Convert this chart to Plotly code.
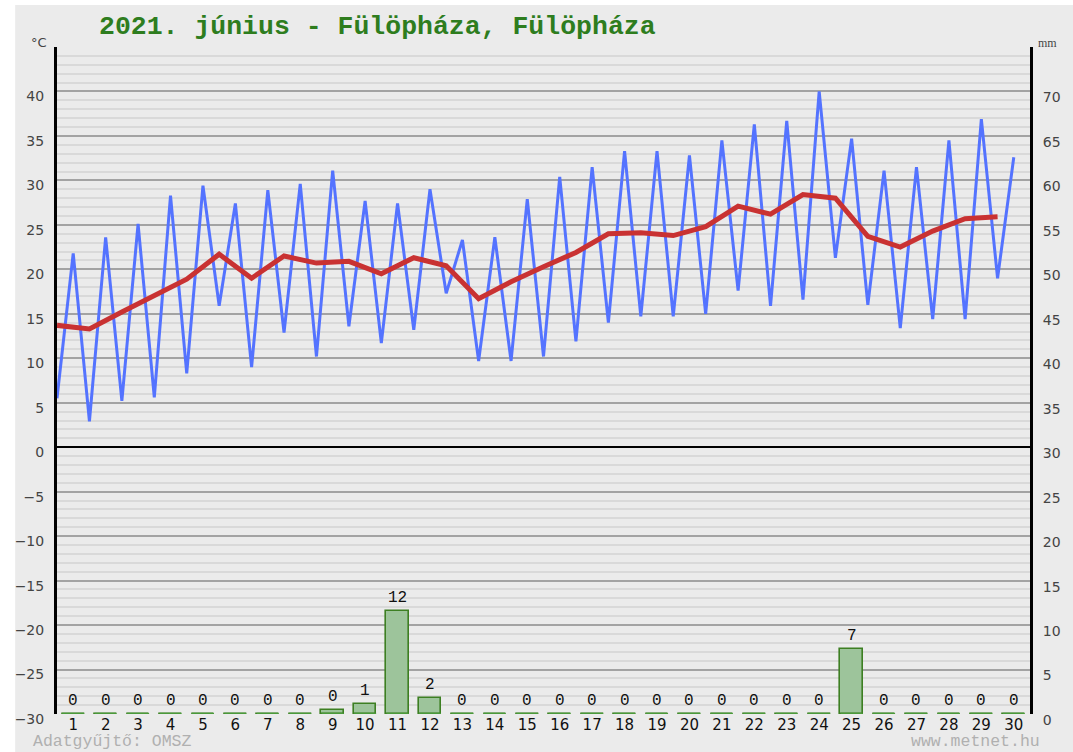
import plotly.graph_objects as go

days = list(range(1, 31))
tmin = [5.5, 2.9, 5.2, 5.6, 8.3, 15.9, 9.0, 12.9, 10.2, 13.6, 11.7, 13.2, 17.3, 9.7, 9.7,
        10.2, 11.9, 14.0, 14.7, 14.7, 15.0, 17.6, 15.9, 16.6, 21.3, 16.0, 13.4, 14.4, 14.4, 19.0]
tmax = [21.8, 23.6, 25.1, 28.3, 29.4, 27.4, 28.9, 29.6, 31.1, 27.7, 27.4, 29.0, 23.3, 23.6, 27.9,
        30.4, 31.5, 33.3, 33.3, 32.8, 34.5, 36.3, 36.7, 40.0, 34.7, 31.1, 31.5, 34.5, 36.9, 32.6]
tmean = [13.7, 13.3, 15.2, 17.0, 18.9, 21.7, 19.0, 21.5, 20.7, 20.9, 19.5, 21.3, 20.4, 16.7, 18.6,
         20.3, 21.9, 24.0, 24.1, 23.8, 24.8, 27.1, 26.2, 28.4, 28.0, 23.7, 22.5, 24.3, 25.7, 25.9]
precip = [0, 0, 0, 0, 0, 0, 0, 0, 0.4, 1.1, 11.6, 1.8, 0, 0, 0,
          0, 0, 0, 0, 0, 0, 0, 0, 0, 7.3, 0, 0, 0, 0, 0]
temp_ticks = list(range(-30, 45, 5))
mm_ticks = list(range(0, 75, 5))
title_text = "2021. június - Fülöpháza, Fülöpháza"

W, H = 1073, 752
L, R, T, B = 57, 1034, 47, 714
PW, PH = R - L, B - T

def px(x):
    return (x - L) / PW

def py(y):
    return (B - y) / PH

# blue min/max zigzag: min at day start, max at day middle
bx, by = [], []
for d, lo, hi in zip(days, tmin, tmax):
    bx += [d - 0.5, d]
    by += [lo, hi]

mx = [d - 0.5 for d in days]

fig = go.Figure()

# zero-precip baseline segments
sx, sy = [], []
for d in days:
    sx += [d - 0.34, d + 0.34, None]
    sy += [0, 0, None]
fig.add_trace(go.Scatter(x=sx, y=sy, yaxis="y2", mode="lines",
                         line=dict(color="#4a9a3a", width=2.5), hoverinfo="skip"))

fig.add_trace(go.Bar(x=days, y=precip, yaxis="y2", width=0.7,
                     marker=dict(color="#9dc49b", line=dict(color="#3d7f22", width=1.6))))

fig.add_trace(go.Scatter(x=bx, y=by, mode="lines",
                         line=dict(color="#5473ff", width=3)))
fig.add_trace(go.Scatter(x=mx, y=tmean, mode="lines",
                         line=dict(color="#c93232", width=5)))

annotations = [
    dict(text=title_text, xref="paper", yref="paper", x=px(97), y=py(27),
         xanchor="left", yanchor="middle", showarrow=False,
         font=dict(family="Liberation Mono", size=26.5, color="#2e7d1e", weight="bold")),
    dict(text="°C", xref="paper", yref="paper", x=px(39), y=py(42),
         xanchor="center", yanchor="middle", showarrow=False,
         font=dict(family="DejaVu Sans", size=13, color="#444444")),
    dict(text="mm", xref="paper", yref="paper", x=px(1052), y=py(43),
         xanchor="center", yanchor="middle", showarrow=False,
         font=dict(family="Liberation Serif", size=12, color="#444444")),
    dict(text="Adatgyűjtő: OMSZ", xref="paper", yref="paper", x=px(31), y=py(741),
         xanchor="left", yanchor="middle", showarrow=False,
         font=dict(family="Liberation Mono", size=16.5, color="#b0b0b0")),
    dict(text="www.metnet.hu", xref="paper", yref="paper", x=px(1046), y=py(741),
         xanchor="right", yanchor="middle", showarrow=False,
         font=dict(family="Liberation Mono", size=16.5, color="#b0b0b0")),
]
for d, v in zip(days, precip):
    annotations.append(dict(text=str(int(round(v + 1e-9))), xref="x", yref="y2", x=d, y=v,
                            xanchor="center", yanchor="bottom", yshift=2, showarrow=False,
                            font=dict(family="Liberation Mono", size=16, color="#111111")))

fig.update_layout(
    width=W, height=H,
    margin=dict(l=L, r=W - R, t=T, b=H - B, pad=0),
    paper_bgcolor="white",
    plot_bgcolor="#ebebeb",
    showlegend=False,
    bargap=0,
    xaxis=dict(range=[0.5, 30.5], tickvals=days, ticktext=[str(d) for d in days],
               showgrid=False, zeroline=False, showline=False, ticks="",
               tickfont=dict(family="DejaVu Sans", size=15, color="#111111"),
               ticklabelstandoff=0),
    yaxis=dict(range=[-30, 45], tickvals=temp_ticks, showgrid=True,
               gridcolor="#a3a3a3", gridwidth=1.5,
               minor=dict(dtick=1, tick0=0, showgrid=True, gridcolor="#d9d9d9", gridwidth=1.5),
               zeroline=True, zerolinecolor="#000000", zerolinewidth=2,
               showline=True, linecolor="#000000", linewidth=3,
               ticks="", ticklabelstandoff=7, ticklabelshift=5,
               tickfont=dict(family="DejaVu Sans", size=14, color="#444444")),
    yaxis2=dict(range=[0, 75], tickvals=mm_ticks, overlaying="y", side="right", anchor="x",
                showgrid=False, zeroline=False,
                showline=True, linecolor="#000000", linewidth=3,
                ticks="", ticklabelstandoff=7, ticklabelshift=6,
                tickfont=dict(family="DejaVu Sans", size=14, color="#444444")),
    shapes=[dict(type="rect", xref="paper", yref="paper", layer="below",
                 x0=px(15), x1=px(W + 5), y0=py(H + 5), y1=py(5),
                 fillcolor="#ebebeb", line=dict(width=0))],
    annotations=annotations,
)

fig.write_html("out.html", config={"displayModeBar": False},
               post_script="document.body.style.margin='0';document.body.style.overflow='hidden';")
